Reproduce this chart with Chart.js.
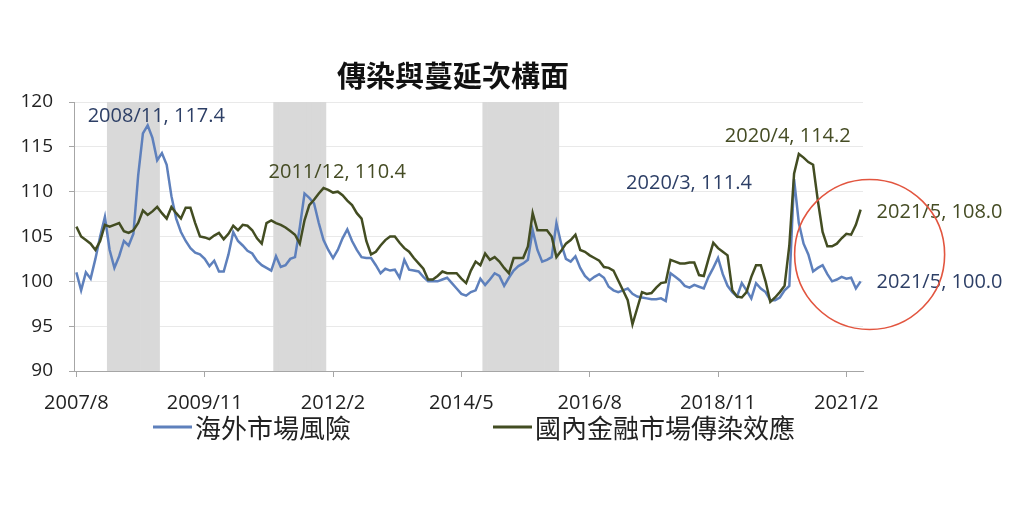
<!DOCTYPE html>
<html>
<head>
<meta charset="utf-8">
<script src="https://cdn.jsdelivr.net/npm/chart.js@4.4.1/dist/chart.umd.min.js"></script>
<style>
  html, body { margin: 0; padding: 0; background: #fff; }
  #wrap { width: 1024px; height: 512px; position: relative; }
</style>
</head>
<body>
<div id="wrap"><canvas id="myChart"></canvas></div>
<script>
// months 2007/8 .. 2021/5
var months = [];
for (var y = 2007, m = 8; y < 2021 || (y === 2021 && m <= 5); m++) {
  if (m > 12) { m = 1; y++; }
  months.push(y + '/' + m);
}

var tickLabels = ['2007/8', '2009/11', '2012/2', '2014/5', '2016/8', '2018/11', '2021/2'];

// 海外市場風險
var overseasRisk = [
  101, 99, 101, 100.3, 102.5, 105, 107.2, 103.5, 101.5, 102.8,
  104.5, 104, 105.3, 111.8, 116.5, 117.4, 116, 113.5, 114.3, 113,
  109.5, 107, 105.5, 104.5, 103.7, 103.2, 103, 102.5, 101.7, 102.3,
  101.1, 101.1, 103, 105.5, 104.5, 104, 103.4, 103.1, 102.3, 101.8,
  101.5, 101.2, 102.8, 101.6, 101.8, 102.5, 102.7, 106, 109.8, 109.3,
  108.7, 106.5, 104.6, 103.5, 102.6, 103.5, 104.8, 105.8, 104.5, 103.5,
  102.7, 102.6, 102.6, 101.8, 100.9, 101.4, 101.2, 101.3, 100.4, 102.4,
  101.3, 101.2, 101.1, 100.5, 100, 100, 100, 100.2, 100.4, 99.8,
  99.2, 98.6, 98.4, 98.8, 99, 100.3, 99.6, 100.2, 100.9, 100.6,
  99.5, 100.4, 101.2, 101.7, 102, 102.4, 105.7, 103.5, 102.2, 102.4,
  102.7, 106.5, 104.2, 102.5, 102.2, 102.8, 101.5, 100.6, 100.1, 100.5,
  100.8, 100.4, 99.4, 99, 98.8, 99, 99.2, 98.6, 98.3, 98.2,
  98.1, 98, 98, 98.1, 97.8, 100.9, 100.5, 100.1, 99.5, 99.3,
  99.6, 99.4, 99.2, 100.5, 101.5, 102.6, 100.8, 99.5, 98.8, 98.3,
  99.8, 99, 98.1, 99.8, 99.2, 98.8, 97.9, 97.9, 98.2, 99,
  99.5, 111.4, 106.5, 104.2, 103, 101.1, 101.5, 101.8, 100.8, 100,
  100.2, 100.5, 100.3, 100.4, 99.2, 100.0
];

// 國內金融市場傳染效應
var domesticContagion = [
  106.1, 105, 104.6, 104.2, 103.5, 104.5, 106.3, 106.1, 106.3, 106.5,
  105.6, 105.4, 105.7, 106.5, 107.9, 107.4, 107.8, 108.3, 107.6, 107,
  108.3, 107.6, 107, 108.2, 108.2, 106.5, 105, 104.9, 104.7, 105.1,
  105.4, 104.7, 105.3, 106.2, 105.7, 106.3, 106.2, 105.7, 104.8, 104.2,
  106.5, 106.8, 106.5, 106.3, 106, 105.6, 105.2, 104.2, 106.8, 108.5,
  109.1, 109.8, 110.4, 110.2, 109.9, 110, 109.6, 109, 108.5, 107.6,
  107, 104.5, 103, 103.3, 104, 104.6, 105, 105, 104.3, 103.7,
  103.3, 102.6, 102, 101.4, 100.2, 100.2, 100.6, 101.1, 100.9, 100.9,
  100.9, 100.3, 99.8, 101.2, 102.2, 101.8, 103.1, 102.4, 102.7, 102.2,
  101.5, 100.9, 102.6, 102.6, 102.6, 103.9, 107.6, 105.7, 105.7, 105.7,
  105, 102.7, 103.4, 104.2, 104.6, 105.2, 103.5, 103.3, 102.9, 102.6,
  102.3, 101.6, 101.5, 101.2, 100.1, 99, 97.9, 95.2, 97, 98.8,
  98.6, 98.7, 99.3, 99.8, 99.9, 102.4, 102.2, 102, 102, 102.1,
  102.1, 100.7, 100.6, 102.5, 104.3, 103.7, 103.3, 102.9, 99, 98.3,
  98.2, 98.8, 100.5, 101.8, 101.8, 100, 97.7, 98.2, 98.8, 99.5,
  104, 112, 114.2, 113.8, 113.3, 113, 109, 105.5, 103.9, 103.9,
  104.2, 104.8, 105.3, 105.2, 106.3, 108.0
];

// shaded periods (first month, last month)
var shadedPeriods = [['2008/3', '2009/1'], ['2011/2', '2011/12'], ['2014/10', '2016/1']];

// labelled points: dataset index, month
var callouts = [
  [0, '2008/11'], [1, '2011/12'], [0, '2020/3'], [1, '2020/4'], [1, '2021/5'], [0, '2021/5']
];

var blue = '#5E80BC';
var olive = '#434D22';
var blueText = '#2D3F66';
var oliveText = '#454C24';

var bandData = months.map(function (mo, i) {
  for (var k = 0; k < shadedPeriods.length; k++) {
    var a = months.indexOf(shadedPeriods[k][0]);
    var b = months.indexOf(shadedPeriods[k][1]);
    if (i >= a && i <= b) return [90, 120];
  }
  return null;
});

// text offsets of the callouts, relative to their point
var calloutOffsets = [[-60, -9], [-55, -16], [-168, 4], [-74, -18], [16, 3], [16, 1]];

var overlay = {
  id: 'overlay',
  afterDraw: function (chart) {
    var ctx = chart.ctx;
    var xs = chart.scales.x, ys = chart.scales.y;
    ctx.save();

    // title
    ctx.fillStyle = '#111';
    ctx.font = 'bold 29px "Noto Sans CJK TC", "Noto Sans", sans-serif';
    ctx.textAlign = 'center';
    ctx.textBaseline = 'middle';
    ctx.fillText('傳染與蔓延次構面', 453, 76);

    // callouts
    ctx.font = '20px "Open Sans", "Noto Sans", sans-serif';
    ctx.textAlign = 'left';
    callouts.forEach(function (c, n) {
      var ds = chart.data.datasets[c[0]];
      var i = months.indexOf(c[1]);
      var v = ds.data[i];
      var px = xs.getPixelForValue(i);
      var py = ys.getPixelForValue(v);
      ctx.fillStyle = c[0] === 0 ? blueText : oliveText;
      ctx.fillText(c[1] + ', ' + v.toFixed(1), px + calloutOffsets[n][0], py + calloutOffsets[n][1]);
    });

    // red circle around the latest months
    var last = months.length - 1;
    ctx.beginPath();
    ctx.strokeStyle = '#E2553F';
    ctx.lineWidth = 1.6;
    ctx.arc(xs.getPixelForValue(last) + 9, ys.getPixelForValue(103), 75, 0, Math.PI * 2);
    ctx.stroke();

    // legend
    var legendX = [153, 493];
    var ly = 427;
    ctx.font = '26px "Noto Sans CJK TC", "Noto Sans", sans-serif';
    ctx.textBaseline = 'middle';
    [0, 1].forEach(function (d, n) {
      var ds = chart.data.datasets[d];
      ctx.beginPath();
      ctx.strokeStyle = ds.borderColor;
      ctx.lineWidth = 3;
      ctx.moveTo(legendX[n], ly);
      ctx.lineTo(legendX[n] + 39, ly);
      ctx.stroke();
      ctx.fillStyle = '#222';
      ctx.fillText(ds.label, legendX[n] + 42, ly + 1);
    });
    ctx.restore();
  }
};

var ctx = document.getElementById('myChart').getContext('2d');
window.myChart = new Chart(ctx, {
  data: {
    labels: months,
    datasets: [
      {
        type: 'line',
        label: '海外市場風險',
        data: overseasRisk,
        borderColor: blue,
        borderWidth: 2.5,
        pointRadius: 0,
        tension: 0,
        order: 1
      },
      {
        type: 'line',
        label: '國內金融市場傳染效應',
        data: domesticContagion,
        borderColor: olive,
        borderWidth: 2.5,
        pointRadius: 0,
        tension: 0,
        order: 0
      },
      {
        type: 'bar',
        label: 'shade',
        data: bandData,
        backgroundColor: '#D9D9D9',
        borderWidth: 0,
        barPercentage: 1,
        categoryPercentage: 1,
        order: 3
      }
    ]
  },
  options: {
    responsive: true,
    maintainAspectRatio: false,
    animation: false,
    events: [],
    layout: { padding: { top: 102, right: 161, bottom: 0, left: 0 } },
    plugins: {
      legend: { display: false },
      title: { display: false },
      tooltip: { enabled: false }
    },
    scales: {
      x: {
        type: 'category',
        offset: true,
        afterFit: function (s) { s.height = 141; },
        afterBuildTicks: function (s) {
          s.ticks = s.ticks.filter(function (t) { return tickLabels.indexOf(months[t.value]) >= 0; });
        },
        grid: { drawOnChartArea: false, drawTicks: true, tickLength: 6, tickColor: '#A6A6A6', offset: false },
        border: { color: '#A6A6A6', width: 1 },
        ticks: {
          autoSkip: false,
          maxRotation: 0,
          padding: 14,
          color: '#222',
          font: { family: '"Open Sans", "Noto Sans", sans-serif', size: 20 }
        }
      },
      y: {
        min: 90,
        max: 120,
        afterFit: function (s) { s.width = 74; },
        grid: { color: '#E9E9E9', tickColor: '#A6A6A6', tickLength: 5 },
        border: { color: '#A6A6A6', width: 1 },
        ticks: {
          stepSize: 5,
          padding: 16,
          color: '#222',
          font: { family: '"Open Sans", "Noto Sans", sans-serif', size: 19 }
        }
      }
    }
  },
  plugins: [overlay]
});
</script>
</body>
</html>
